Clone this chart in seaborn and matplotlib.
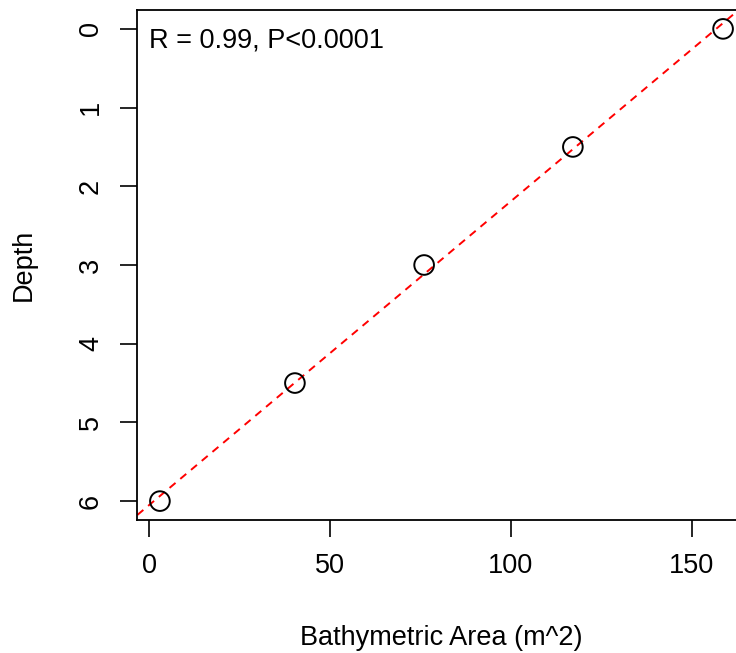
import numpy as np
import pandas as pd
import matplotlib
matplotlib.use("Agg")
import matplotlib.pyplot as plt
import seaborn as sns

# Data
area = [3.0, 40.3, 76.0, 117.1, 158.6]
depth = [6.0, 4.5, 3.0, 1.5, 0.0]
x_ticks = [0, 50, 100, 150]
y_ticks = [0, 1, 2, 3, 4, 5, 6]
annotation = "R = 0.99, P<0.0001"

df = pd.DataFrame({"Bathymetric Area (m^2)": area, "Depth": depth})

sns.set_theme(style="white")
plt.rcParams["font.family"] = ["Liberation Sans", "DejaVu Sans"]

FS = 19.5
fig = plt.figure(figsize=(7.36, 6.53), dpi=100)
ax = fig.add_axes([137.4 / 736, 1 - 520 / 653, (745.6 - 137.4) / 736, (520 - 10) / 653])

sns.scatterplot(data=df, x="Bathymetric Area (m^2)", y="Depth", ax=ax,
                s=200, facecolor="none", edgecolor="black", linewidth=1.4,
                marker="o", zorder=3)

m, b = np.polyfit(area, depth, 1)
ax.axline((0, b), slope=m, color="red", linestyle=(0, (4, 3.2)), linewidth=1.4, zorder=2)

xr = max(area) - min(area)
ax.set_xlim(min(area) - 0.04 * xr, max(area) + 0.04 * xr)
yr = max(depth) - min(depth)
ax.set_ylim(max(depth) + 0.04 * yr, min(depth) - 0.04 * yr)

ax.set_xticks(x_ticks)
ax.set_yticks(y_ticks)
ax.set_xticklabels([str(t) for t in x_ticks])
ax.set_yticklabels([str(t) for t in y_ticks], rotation=90, va="center")
ax.tick_params(axis="both", direction="out", length=12, width=1.2, color="black",
               labelsize=FS, labelcolor="black", left=True, bottom=True)
ax.tick_params(axis="x", pad=12)
ax.tick_params(axis="y", pad=12)

for sp in ax.spines.values():
    sp.set_color("black")
    sp.set_linewidth(1.3)

ax.set_xlabel("Bathymetric Area (m^2)", fontsize=FS, color="black", va="baseline")
ax.xaxis.set_label_coords(0.5, -0.245)
ax.set_ylabel("Depth", fontsize=FS, color="black", va="center")
ax.yaxis.set_label_coords(-0.187, 0.5)

ax.text(0.019, 0.9255, annotation, transform=ax.transAxes, ha="left", va="baseline",
        fontsize=FS, color="black")

fig.savefig("out.png", dpi=100)
